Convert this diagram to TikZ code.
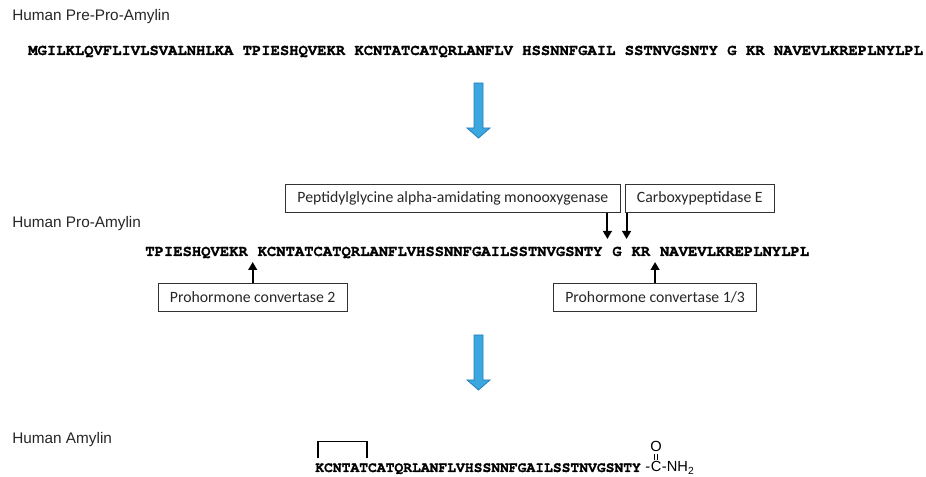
\documentclass[tikz,border=0pt]{standalone}
\usepackage{fontspec}
\setmainfont{Liberation Sans}
\newfontfamily\seqfont{TeX Gyre Cursor}[BoldFeatures={FakeBold=1.2}]
\newfontfamily\boxfont{Carlito}
\usetikzlibrary{positioning, calc, arrows.meta}
\def\seqgap{6.99pt}
\tikzset{
  stage/.style = {font=\fontsize{11.5}{13}\selectfont, text=black!85, inner sep=0pt},
  seq/.style = {font=\seqfont\bfseries\fontsize{11.65}{14}\selectfont, inner sep=0pt},
  seqsmall/.style = {font=\seqfont\bfseries\fontsize{11}{13}\selectfont, inner sep=0pt},
  enzyme/.style = {draw=black!80, line width=0.6pt, font=\boxfont\fontsize{11.8}{13}\selectfont,
    text=black!85, inner xsep=9pt, minimum height=21pt},
  cut/.style = {-{Triangle[width=6.5pt,length=6pt]}, line width=1.5pt},
  flow/.style = {fill={rgb,255:red,58;green,168;blue,222}, draw={rgb,255:red,40;green,125;blue,185}, line width=0.6pt},
  bond/.style = {line width=1.1pt},
  dbond/.style = {double, double distance=1.4pt, line width=0.6pt, shorten <=1.2pt, shorten >=1.2pt},
  amide/.style = {font=\fontsize{11}{12}\selectfont, inner sep=0pt}
}

\begin{document}
\begin{tikzpicture}[x=0.75pt, y=-0.75pt]
    \useasboundingbox (0,0) rectangle (926,477);

    \node[stage, anchor=base west] (pre) at (12,21) {Human Pre-Pro-Amylin};
    \node[seq, anchor=base west] (s1) at (28,55)
      {MGILKLQVFLIVLSVALNHLKA TPIESHQVEKR KCNTATCATQRLANFLV HSSNNFGAIL SSTNVGSNTY G KR NAVEVLKREPLNYLPL};

    \foreach \t in {83,335}
      \draw[flow] (474,\t) -- ++(9,0) -- ++(0,45) -- ++(7,0) -- ++(-11.5,10) -- ++(-11.5,-10) -- ++(7,0) -- cycle;

    \node[stage, anchor=base west] (pro) at (12,228) {Human Pro-Amylin};
    \node[seq, anchor=base west] (s2a) at (145,256) {TPIESHQVEKR};
    \node[seq, base right=\seqgap of s2a] (s2b) {KCNTATCATQRLANFLVHSSNNFGAILSSTNVGSNTY};
    \node[seq, base right=\seqgap of s2b] (s2c) {G};
    \node[seq, base right=\seqgap of s2c] (s2d) {KR};
    \node[seq, base right=\seqgap of s2d] (s2e) {NAVEVLKREPLNYLPL};

    \coordinate (lo1) at ($(s2a.base east)!.5!(s2b.base west)+(0,6)$);
    \coordinate (hi1) at ($(s2b.base east)!.5!(s2c.base west)+(0,-17)$);
    \coordinate (hi2) at ($(s2c.base east)!.5!(s2d.base west)+(0,-17)$);
    \coordinate (lo2) at ($(s2d.base east)!.5!(s2e.base west)+(0,6)$);

    \node[enzyme, anchor=south east] (pam) at ([xshift=10pt,yshift=19.5pt]hi1)
      {Peptidylglycine alpha-amidating monooxygenase};
    \node[enzyme, anchor=south west] (cpe) at ([xshift=-1.5pt,yshift=19.5pt]hi2) {Carboxypeptidase E};
    \node[enzyme, below=15.75pt of lo1] (pc2) {Prohormone convertase 2};
    \node[enzyme, below=15.75pt of lo2] (pc13) {Prohormone convertase 1/3};

    \draw[cut] (pam.south -| hi1) -- (hi1);
    \draw[cut] (cpe.south -| hi2) -- (hi2);
    \draw[cut] (pc2) -- (lo1);
    \draw[cut] (pc13) -- (lo2);

    \node[stage, anchor=base west] (amy) at (12,444) {Human Amylin};
    \node[seqsmall, anchor=base west] (mat) at (315,472) {KCNTATCATQRLANFLVHSSNNFGAILSSTNVGSNTY};
    \coordinate (cys2) at ([xshift=2.2pt,yshift=3.5pt]mat.north west);
    \coordinate (cys7) at ([xshift=39pt,yshift=3.5pt]mat.north west);
    \draw[bond] (cys2) -- ++(0,-17) -| (cys7);

    \node[amide, base right=3pt of mat] (hy) {-};
    \node[amide, base right=0pt of hy] (cc) {C};
    \node[amide, base right=0pt of cc] (nh) {-NH\textsubscript{2}};
    \node[amide, above=7pt of cc] (ox) {O};
    \draw[dbond] (ox) -- (cc);
\end{tikzpicture}
\end{document}
